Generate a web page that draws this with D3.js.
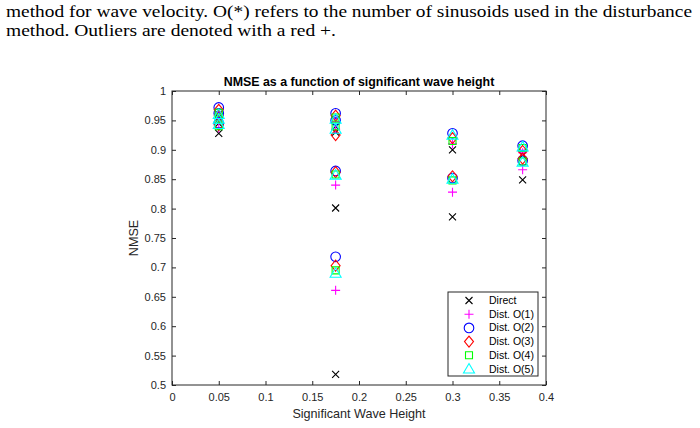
<!DOCTYPE html>
<html><head><meta charset="utf-8">
<script src="https://cdn.jsdelivr.net/npm/d3@7"></script>
<style>body{margin:0;background:#fff;}svg{display:block;}</style>
</head><body>
<svg id="chart" width="700" height="428"></svg>
<script>
const captionLines = [
  "method for wave velocity.  O(*) refers to the number of sinusoids used in the disturbance",
  "method. Outliers are denoted with a red +."
];
const title = "NMSE as a function of significant wave height";
const xLabel = "Significant Wave Height";
const yLabel = "NMSE";
const xTicks = [0,0.05,0.1,0.15,0.2,0.25,0.3,0.35,0.4];
const yTicks = [0.5,0.55,0.6,0.65,0.7,0.75,0.8,0.85,0.9,0.95,1];
const heights = [0.05, 0.175, 0.3, 0.375];
const seriesNames = ["Direct","Dist. O(1)","Dist. O(2)","Dist. O(3)","Dist. O(4)","Dist. O(5)"];
const seriesColors = ["#000000","#ff00ff","#0000ff","#ff0000","#00ff00","#00ffff"];
const seriesMarkers = ["x","plus","circle","diamond","square","triangle"];
// values per height group
const direct = [[0.928,0.945,0.955],[0.518,0.801,0.930,0.940],[0.786,0.900],[0.849,0.891]];
const distO1 = [[0.937,0.950,0.962],[0.661,0.840,0.935,0.948],[0.828,0.910],[0.866,0.895]];
const distO2 = [[0.945,0.962,0.972],[0.718,0.864,0.950,0.962],[0.852,0.928],[0.882,0.907]];
const distO3 = [[0.942,0.958,0.968],[0.703,0.862,0.925,0.958],[0.855,0.920],[0.885,0.898]];
const distO4 = [[0.940,0.955,0.963],[0.695,0.858,0.940,0.955],[0.848,0.915],[0.880,0.903]];
const distO5 = [[0.943,0.952,0.960],[0.690,0.857,0.935,0.952],[0.850,0.925],[0.879,0.905]];
const seriesValues = [direct, distO1, distO2, distO3, distO4, distO5];

const svg = d3.select("#chart");
const serif = "'Liberation Serif', 'DejaVu Serif', serif";
const sans = "'Liberation Sans', Arial, Helvetica, sans-serif";
const axisColor = "#262626";

// caption
svg.append("text").attr("x",6).attr("y",17).attr("font-family",serif).attr("font-size",16)
  .attr("textLength",686).attr("lengthAdjust","spacingAndGlyphs").text(captionLines[0]);
svg.append("text").attr("x",6).attr("y",36).attr("font-family",serif).attr("font-size",16)
  .attr("textLength",330).attr("lengthAdjust","spacingAndGlyphs").text(captionLines[1]);

const L=172, R=546, T=91, B=385;
const x = d3.scaleLinear().domain([0,0.4]).range([L,R]);
const y = d3.scaleLinear().domain([0.5,1]).range([B,T]);

// box
svg.append("rect").attr("x",L).attr("y",T).attr("width",R-L).attr("height",B-T)
  .attr("fill","none").attr("stroke",axisColor).attr("stroke-width",1);

// axes
const gx = svg.append("g").attr("transform",`translate(0,${B})`)
  .call(d3.axisBottom(x).tickValues(xTicks).tickSize(-4).tickPadding(8).tickFormat(d3.format("")));
const gxt = svg.append("g").attr("transform",`translate(0,${T})`)
  .call(d3.axisTop(x).tickValues(xTicks).tickSize(-4).tickFormat(""));
const gy = svg.append("g").attr("transform",`translate(${L},0)`)
  .call(d3.axisLeft(y).tickValues(yTicks).tickSize(-4).tickPadding(6).tickFormat(d3.format("")));
const gyr = svg.append("g").attr("transform",`translate(${R},0)`)
  .call(d3.axisRight(y).tickValues(yTicks).tickSize(-4).tickFormat(""));
[gx,gxt,gy,gyr].forEach(g=>{
  g.select(".domain").remove();
  g.selectAll("line").attr("stroke",axisColor);
  g.selectAll("text").attr("fill",axisColor).attr("font-family",sans).attr("font-size",11);
});

// titles
svg.append("text").attr("x",(L+R)/2).attr("y",86).attr("text-anchor","middle")
  .attr("font-family",sans).attr("font-weight","bold").attr("font-size",12.4).attr("fill","#000").text(title);
svg.append("text").attr("x",(L+R)/2).attr("y",418).attr("text-anchor","middle")
  .attr("font-family",sans).attr("font-size",12.6).attr("fill",axisColor).text(xLabel);
svg.append("text").attr("transform",`translate(138,${(T+B)/2}) rotate(-90)`).attr("text-anchor","middle")
  .attr("font-family",sans).attr("font-size",12.6).attr("fill",axisColor).text(yLabel);

function markerPath(type){
  switch(type){
    case "x": return "M-3.5,-3.5L3.5,3.5M-3.5,3.5L3.5,-3.5";
    case "plus": return "M-4.5,0L4.5,0M0,-4.5L0,4.5";
    case "circle": return "M4.8,0A4.8,4.8 0 1,1 -4.8,0A4.8,4.8 0 1,1 4.8,0Z";
    case "diamond": return "M0,-5.5L4.5,0L0,5.5L-4.5,0Z";
    case "square": return "M-3.5,-3.5L3.5,-3.5L3.5,3.5L-3.5,3.5Z";
    case "triangle": return "M0,-5.5L5.5,4L-5.5,4Z";
  }
}

const plot = svg.append("g");
seriesValues.forEach((vals,si)=>{
  const pts=[];
  vals.forEach((arr,gi)=>arr.forEach(v=>pts.push({h:heights[gi],v})));
  plot.selectAll(null).data(pts).enter().append("path")
    .attr("transform",d=>`translate(${x(d.h)},${y(d.v)})`)
    .attr("d",markerPath(seriesMarkers[si]))
    .attr("fill","none").attr("stroke",seriesColors[si]).attr("stroke-width",1.1);
});

// legend
const lg = svg.append("g");
lg.append("rect").attr("x",448).attr("y",292).attr("width",90).attr("height",84)
  .attr("fill","#fff").attr("stroke",axisColor).attr("stroke-width",1);
seriesNames.forEach((n,i)=>{
  const yy = 300.5 + i*13.7;
  lg.append("path").attr("transform",`translate(469,${yy})`).attr("d",markerPath(seriesMarkers[i]))
    .attr("fill","none").attr("stroke",seriesColors[i]).attr("stroke-width",1.1);
  lg.append("text").attr("x",489).attr("y",yy+3.5).attr("font-family",sans).attr("font-size",10.5)
    .attr("fill","#000").text(n);
});
</script>
</body></html>
